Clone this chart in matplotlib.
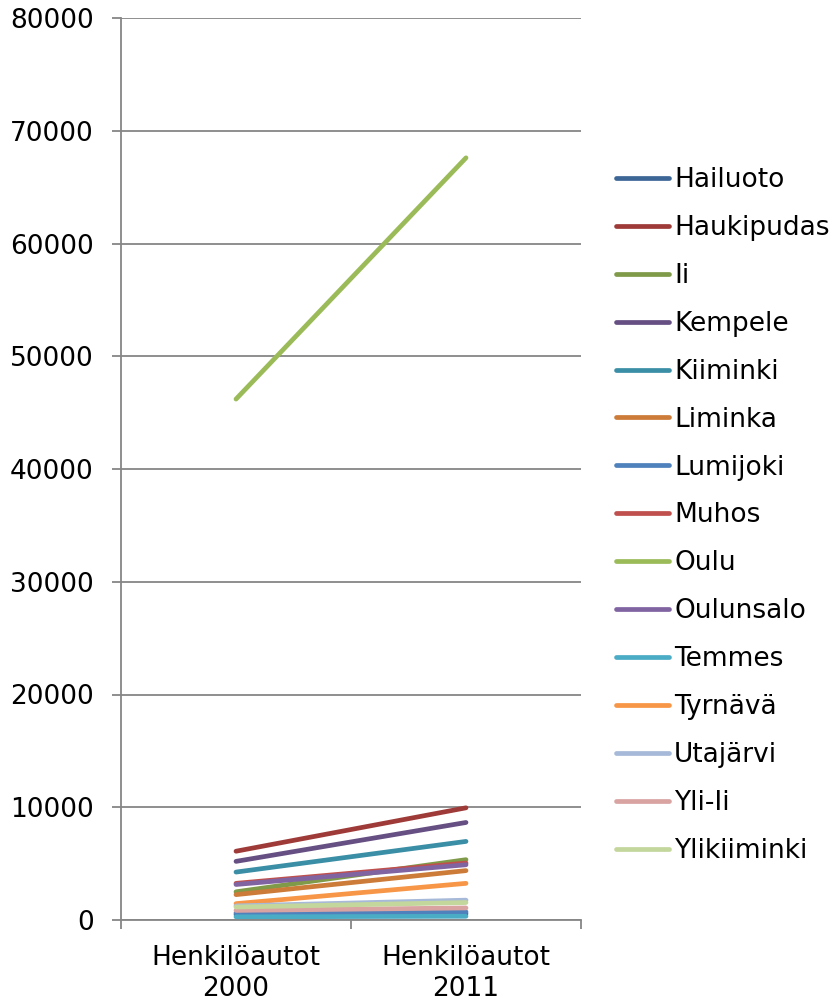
import matplotlib
matplotlib.use("Agg")
import matplotlib.pyplot as plt

categories = ["Henkilöautot\n2000", "Henkilöautot\n2011"]

municipalities = ["Hailuoto", "Haukipudas", "Ii", "Kempele", "Kiiminki", "Liminka",
                  "Lumijoki", "Muhos", "Oulu", "Oulunsalo", "Temmes", "Tyrnävä",
                  "Utajärvi", "Yli-Ii", "Ylikiiminki"]

# passenger cars, year 2000 and 2011
cars_2000 = [480, 6100, 2500, 5200, 4250, 2250, 620, 3250, 46200, 3150, 280, 1450,
             1250, 850, 1150]
cars_2011 = [560, 9950, 5350, 8650, 6970, 4380, 720, 5050, 67600, 4900, 330, 3250,
             1760, 1070, 1550]

colors = ["#3C6696", "#9E3B38", "#7F9A48", "#664F82", "#3A8EA5", "#CC7B38",
          "#4F81BD", "#C0504D", "#9BBB59", "#8064A2", "#4BACC6", "#F79646",
          "#A7B9D8", "#D9A3A2", "#C3D69B"]

fig = plt.figure(figsize=(8.34, 10.02), dpi=100)
ax = fig.add_axes([121 / 834, 82 / 1002, 460 / 834, 902 / 1002])

x = [0, 1]
for name, a, b, c in zip(municipalities, cars_2000, cars_2011, colors):
    ax.plot(x, [a, b], color=c, lw=3.4, solid_capstyle="round", label=name)

ax.set_xlim(-0.5, 1.5)
ax.set_ylim(0, 80000)
ax.set_yticks(range(0, 80001, 10000))
ax.yaxis.grid(True, color="#868686", lw=1.3)
ax.set_axisbelow(True)

ax.set_xticks(x)
ax.set_xticklabels(categories, linespacing=1.25)
ax.set_xticks([-0.5, 0.5, 1.5], minor=True)
ax.tick_params(axis="x", which="major", length=0, pad=18, labelsize=19)
ax.tick_params(axis="x", which="minor", length=6.5, width=1.3, color="#868686")
ax.tick_params(axis="y", length=6.5, width=1.3, color="#868686", labelsize=19, pad=13)

for s in ["top", "right"]:
    ax.spines[s].set_visible(False)
for s in ["left", "bottom"]:
    ax.spines[s].set_color("#868686")
    ax.spines[s].set_linewidth(1.3)

fig.legend(loc="center left", bbox_to_anchor=(616 / 834, 1 - 515.5 / 1002),
           frameon=False, fontsize=19, handlelength=2.0, handletextpad=0.2,
           labelspacing=0.83, borderpad=0, borderaxespad=0)

fig.savefig("out.png", dpi=100)
